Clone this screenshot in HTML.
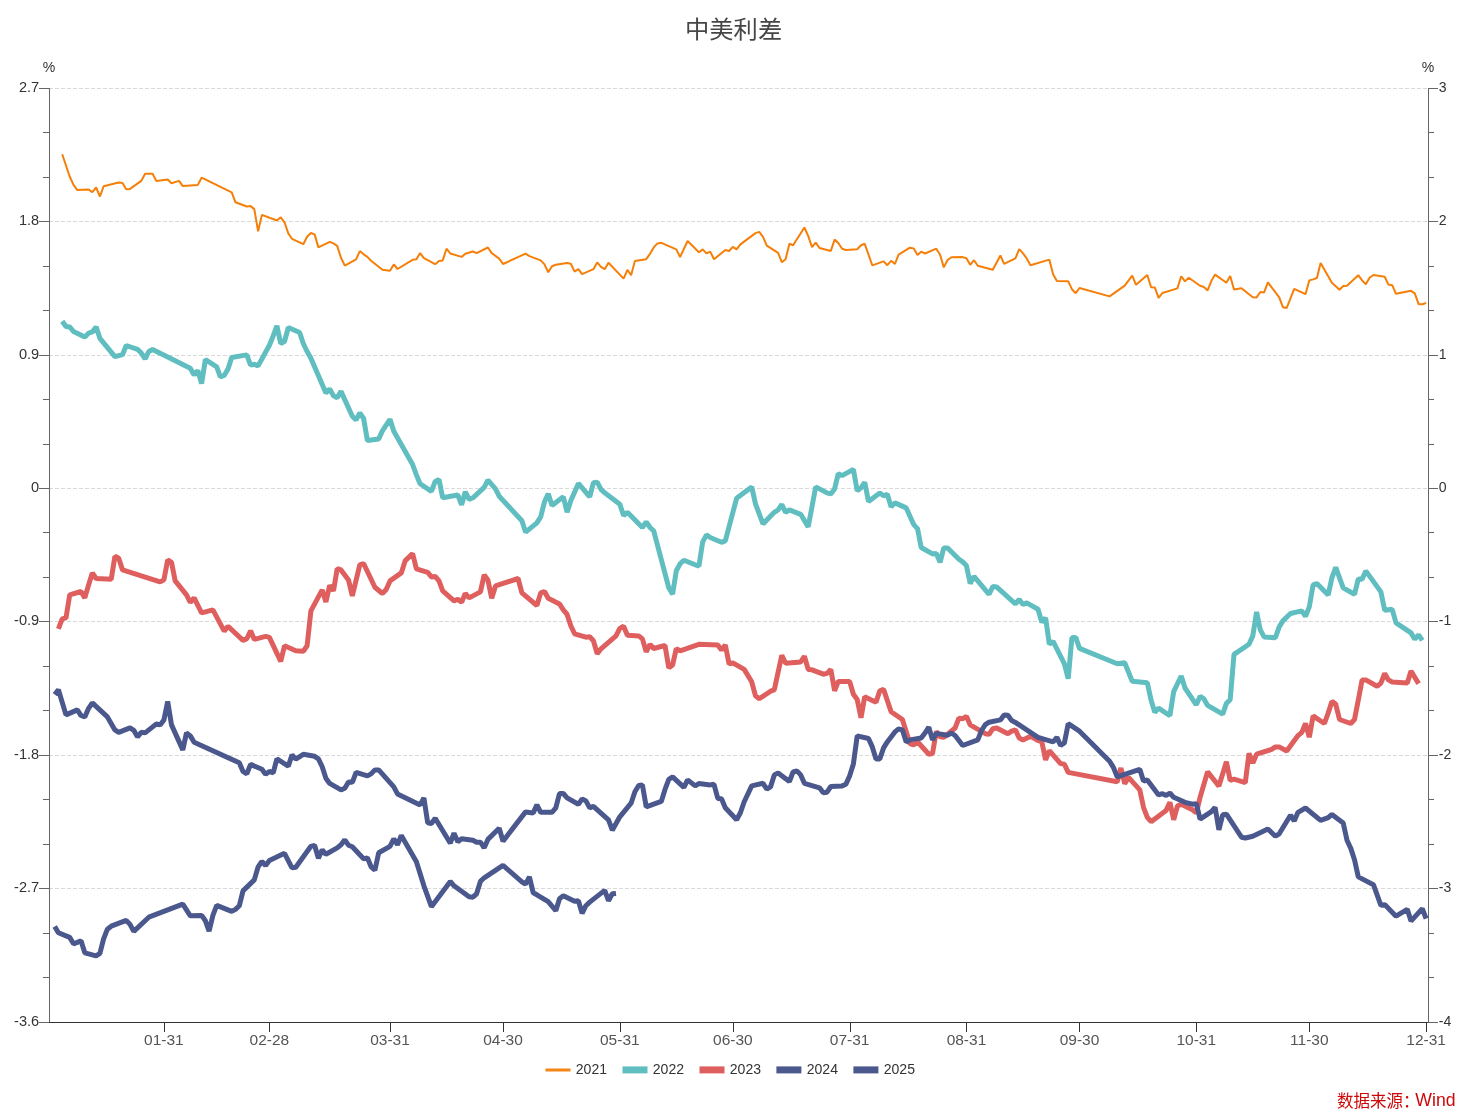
<!DOCTYPE html><html><head><meta charset="utf-8"><title>chart</title><style>html,body{margin:0;padding:0;background:#fff}body{width:1467px;height:1117px;overflow:hidden}svg{display:block;will-change:transform}text{font-family:"Liberation Sans",sans-serif;font-size:15.2px}</style></head><body>
<svg width="1467" height="1117" viewBox="0 0 1467 1117">
<rect width="1467" height="1117" fill="#fff"/>
<g stroke="#d9d9d9" stroke-width="1" stroke-dasharray="4 2" shape-rendering="crispEdges">
<line x1="49" y1="88.5" x2="1428" y2="88.5"/>
<line x1="49" y1="221.5" x2="1428" y2="221.5"/>
<line x1="49" y1="355.5" x2="1428" y2="355.5"/>
<line x1="49" y1="488.5" x2="1428" y2="488.5"/>
<line x1="49" y1="621.5" x2="1428" y2="621.5"/>
<line x1="49" y1="755.5" x2="1428" y2="755.5"/>
<line x1="49" y1="888.5" x2="1428" y2="888.5"/>
</g>
<polyline points="62.2,154.2 69.7,176.5 73.5,184.9 77.3,190.1 88.6,189.5 92.3,192.1 96.1,187.5 99.9,196.5 103.6,186.3 118.7,182.5 122.5,183.1 126.2,189.3 130.0,188.9 141.3,180.9 145.1,173.7 152.6,173.7 156.4,181.1 167.7,179.5 171.5,183.3 179.0,180.9 182.8,186.1 197.8,184.9 201.6,177.7 231.7,192.3 235.5,202.3 246.8,206.5 250.6,206.1 254.3,209.1 258.1,231.4 261.9,214.9 276.9,220.5 280.7,217.3 284.5,222.3 288.3,233.4 292.0,238.8 303.3,244.2 307.1,236.8 310.9,233.0 314.6,234.4 318.4,247.4 329.7,241.8 333.5,243.4 337.2,245.9 341.0,257.8 344.8,265.6 356.1,259.4 359.8,251.1 363.6,254.3 367.4,256.9 371.1,260.8 382.4,269.8 390.0,270.8 393.8,264.4 397.5,269.0 412.6,259.8 416.4,259.2 420.1,253.1 423.9,258.2 435.2,264.2 439.0,261.0 442.7,260.4 446.5,248.7 450.3,253.5 461.6,256.9 465.3,253.7 472.9,251.5 476.6,253.1 487.9,247.5 491.7,253.1 499.2,258.6 503.0,264.0 525.6,253.7 529.4,256.1 540.7,260.4 544.5,264.4 548.2,272.2 552.0,266.2 555.8,264.8 567.1,263.0 570.8,263.8 574.6,271.6 578.4,269.2 582.1,274.2 593.4,269.2 597.2,262.4 601.0,266.8 604.7,269.2 608.5,262.8 623.6,278.6 627.4,269.8 631.1,275.2 634.9,261.0 646.2,259.2 650.0,253.8 653.7,247.4 657.5,243.4 661.3,242.8 676.3,249.4 680.1,257.0 687.6,241.0 698.9,252.2 702.7,249.4 706.5,253.4 710.2,251.6 714.0,259.2 725.3,250.0 729.1,251.0 732.8,246.8 736.6,249.4 740.4,244.4 755.5,233.1 759.2,231.9 763.0,236.9 766.8,245.6 778.1,252.8 781.8,262.2 785.6,259.2 789.4,243.8 793.1,245.2 804.4,227.5 808.2,235.9 812.0,247.2 815.7,242.6 819.5,248.0 830.8,251.0 834.6,239.6 838.3,243.0 842.1,248.8 845.9,250.0 857.2,249.2 861.0,245.2 864.7,243.8 872.3,265.4 883.6,261.4 887.3,265.2 891.1,260.8 894.9,264.0 898.6,254.6 909.9,247.7 913.7,248.5 917.5,254.9 921.2,251.7 925.0,253.5 936.3,248.7 940.1,254.7 943.8,267.4 947.6,260.0 951.4,257.2 962.7,257.1 966.4,258.2 970.2,264.8 974.0,260.2 977.8,265.8 992.8,269.8 1000.4,255.5 1004.1,263.8 1015.4,258.4 1019.2,249.1 1023.0,253.3 1026.7,258.4 1030.5,265.2 1049.3,259.6 1053.1,274.2 1056.9,281.0 1068.2,281.2 1071.9,289.2 1075.7,293.2 1079.5,288.0 1109.6,296.4 1124.7,285.6 1132.2,275.6 1136.0,284.8 1147.3,275.0 1151.1,287.2 1154.8,287.4 1158.6,297.8 1162.4,293.0 1177.4,288.4 1181.2,276.3 1185.0,281.4 1188.7,277.8 1200.1,285.8 1203.8,287.0 1207.6,290.4 1211.4,280.8 1215.1,274.6 1226.4,282.8 1230.2,276.0 1234.0,289.4 1241.5,288.2 1252.8,297.2 1256.6,297.4 1260.3,292.0 1264.1,292.4 1267.9,282.4 1279.2,297.4 1282.9,307.2 1286.7,308.0 1294.2,288.8 1305.5,294.2 1309.3,280.4 1313.1,279.4 1316.9,278.0 1320.6,263.1 1331.9,282.8 1335.7,286.2 1339.5,289.8 1343.2,286.0 1347.0,285.8 1358.3,275.2 1362.1,280.4 1365.8,284.2 1369.6,277.8 1373.4,275.0 1384.7,276.8 1388.4,284.6 1392.2,285.2 1396.0,293.8 1411.0,290.8 1414.8,293.4 1418.6,304.2 1422.3,304.2 1426.1,303.0" fill="none" stroke="#F57F08" stroke-width="2" stroke-linejoin="bevel" stroke-linecap="butt"/>
<polyline points="62.2,321.2 66.0,326.5 69.7,326.9 73.5,331.5 84.8,337.1 88.6,333.1 92.3,331.9 96.1,326.9 99.9,338.3 114.9,356.7 122.5,354.7 126.2,345.5 137.5,349.3 141.3,353.1 145.1,358.9 148.8,351.5 152.6,349.5 190.3,368.3 194.1,374.9 197.8,370.5 201.6,383.5 205.4,359.5 216.7,366.9 220.4,376.9 224.2,375.5 228.0,368.9 231.7,357.5 246.8,354.9 250.6,365.1 254.3,364.3 258.1,365.9 269.4,345.3 273.2,335.9 276.9,325.9 280.7,343.5 284.5,341.5 288.3,327.5 299.6,332.5 303.3,343.5 307.1,351.5 310.9,358.3 325.9,393.1 329.7,388.9 333.5,395.9 337.2,397.8 341.0,391.4 352.3,416.3 356.1,419.9 359.8,412.9 363.6,418.5 367.4,440.5 378.7,438.9 382.4,430.9 390.0,419.3 393.8,431.3 412.6,464.5 416.4,474.9 420.1,483.8 431.4,491.4 435.2,481.4 439.0,479.4 442.7,497.8 457.8,495.0 461.6,504.8 465.3,491.8 469.1,499.4 472.9,497.8 484.2,487.4 487.9,480.2 495.5,488.8 499.2,496.2 521.9,520.8 525.6,532.2 536.9,522.8 540.7,516.8 544.5,501.8 548.2,493.8 552.0,505.4 563.3,496.8 567.1,512.2 570.8,500.8 578.4,483.4 589.7,496.8 593.4,482.8 597.2,482.2 601.0,489.4 604.7,492.8 619.8,504.3 623.6,515.5 627.4,512.3 642.4,527.5 646.2,521.9 650.0,527.5 653.7,530.9 668.8,587.8 672.6,594.2 676.3,570.8 680.1,563.8 683.9,560.2 698.9,566.2 702.7,541.9 706.5,534.9 710.2,537.5 721.5,542.3 725.3,540.9 736.6,498.3 751.7,486.9 755.5,503.9 763.0,523.9 774.3,512.3 778.1,509.9 781.8,504.5 785.6,512.3 789.4,509.9 800.7,514.3 808.2,526.9 815.7,486.9 827.0,492.9 830.8,493.9 834.6,488.9 838.3,473.6 842.1,475.6 853.4,469.4 857.2,490.9 861.0,487.9 864.7,482.3 868.5,501.5 879.8,492.9 883.6,495.9 887.3,494.3 891.1,506.9 894.9,502.9 906.2,507.9 913.7,524.6 917.5,528.6 921.2,547.5 932.5,553.9 936.3,553.5 940.1,562.3 943.8,547.9 947.6,547.9 958.9,559.3 962.7,561.9 966.4,565.5 970.2,583.5 974.0,576.3 989.1,594.3 992.8,586.5 996.6,586.9 1015.4,603.9 1019.2,599.5 1023.0,604.5 1026.7,602.9 1038.0,609.2 1041.8,622.2 1045.6,617.8 1049.3,644.2 1053.1,641.4 1064.4,663.8 1068.2,678.7 1071.9,637.8 1075.7,637.4 1079.5,648.4 1117.2,663.8 1124.7,662.8 1132.2,681.3 1147.3,682.7 1151.1,700.3 1154.8,712.3 1158.6,708.1 1169.9,715.7 1173.7,691.7 1181.2,676.0 1185.0,688.0 1196.3,704.8 1200.1,696.2 1203.8,698.8 1207.6,705.4 1222.7,714.1 1226.4,703.4 1230.2,699.8 1234.0,654.4 1249.0,644.2 1252.8,635.9 1256.6,611.9 1260.3,629.9 1264.1,636.9 1275.4,637.8 1279.2,626.9 1282.9,620.9 1290.5,613.5 1301.8,610.9 1305.5,616.3 1309.3,606.9 1313.1,584.9 1316.9,583.5 1328.2,594.9 1331.9,577.9 1335.7,567.3 1343.2,587.9 1354.5,594.3 1358.3,578.9 1362.1,579.3 1365.8,570.9 1380.9,591.9 1384.7,610.3 1392.2,609.3 1396.0,622.9 1411.0,632.9 1414.8,639.2 1418.6,634.9 1422.3,640.4" fill="none" stroke="#60BEC0" stroke-width="5" stroke-linejoin="bevel" stroke-linecap="butt"/>
<polyline points="58.4,628.8 62.2,618.8 66.0,617.8 69.7,594.9 81.0,591.5 84.8,597.9 88.6,584.9 92.3,572.9 96.1,578.5 111.2,579.3 114.9,556.3 118.7,558.3 122.5,569.9 160.1,581.9 163.9,579.9 167.7,559.9 171.5,562.3 175.2,580.9 186.5,594.9 190.3,602.3 194.1,597.9 201.6,612.9 212.9,609.9 224.2,631.2 228.0,626.2 243.0,640.4 246.8,638.8 250.6,630.8 254.3,639.4 265.6,636.4 269.4,637.4 280.7,661.4 284.5,645.8 295.8,650.8 303.3,651.2 307.1,645.8 310.9,610.9 322.2,589.9 325.9,601.9 329.7,585.3 333.5,590.9 337.2,568.6 341.0,569.9 348.5,579.9 352.3,595.9 359.8,564.9 363.6,563.5 374.9,587.3 382.4,593.5 386.2,589.5 390.0,580.9 401.3,572.9 405.1,560.9 412.6,553.5 416.4,568.9 427.7,572.3 431.4,576.9 435.2,576.5 439.0,580.9 442.7,590.9 454.0,600.9 457.8,599.3 461.6,602.3 465.3,593.5 469.1,597.9 480.4,591.9 484.2,574.9 487.9,579.9 491.7,598.3 495.5,585.9 518.1,578.5 521.9,592.9 536.9,605.5 540.7,592.9 544.5,591.5 548.2,598.3 559.5,603.9 563.3,609.8 567.1,614.4 570.8,625.8 574.6,633.8 585.9,637.2 589.7,636.8 593.4,640.8 597.2,653.8 601.0,648.8 616.0,635.8 619.8,628.4 623.6,626.3 627.4,635.3 638.7,635.9 642.4,638.9 646.2,651.9 650.0,644.3 653.7,648.5 665.0,645.5 668.8,667.8 672.6,664.9 676.3,648.5 680.1,650.9 698.9,644.3 717.8,644.9 721.5,649.9 725.3,644.9 729.1,663.9 732.8,662.9 744.2,669.4 751.7,681.8 755.5,695.8 759.2,698.8 770.5,691.2 774.3,689.8 781.8,655.3 785.6,663.3 800.7,661.9 804.4,656.3 808.2,669.4 812.0,669.8 823.3,674.2 827.0,673.4 830.8,669.4 834.6,690.8 838.3,681.4 849.6,681.4 853.4,694.2 857.2,699.4 861.0,717.8 864.7,696.8 876.0,702.2 879.8,690.8 883.6,689.4 891.1,711.8 902.4,719.5 909.9,743.6 913.7,744.9 917.5,741.8 928.8,754.2 932.5,753.6 936.3,731.5 940.1,736.8 943.8,737.4 955.1,728.0 958.9,718.1 962.7,718.7 966.4,716.2 970.2,724.9 985.3,733.7 989.1,734.3 992.8,728.7 996.6,728.0 1007.9,733.7 1011.7,731.2 1015.4,729.9 1019.2,738.0 1023.0,739.9 1030.5,736.2 1038.0,740.5 1041.8,741.8 1045.6,759.9 1049.3,750.6 1060.6,763.6 1064.4,764.2 1068.2,772.4 1117.2,781.8 1120.9,768.0 1124.7,783.6 1128.5,777.4 1139.8,789.9 1143.5,807.3 1147.3,817.3 1151.1,821.7 1166.1,810.4 1169.9,802.3 1173.7,819.8 1177.4,806.1 1181.2,804.2 1192.5,809.8 1196.3,812.9 1200.1,797.3 1207.6,771.8 1218.9,786.1 1226.4,761.8 1230.2,780.5 1234.0,779.2 1245.3,782.6 1249.0,753.4 1252.8,763.1 1256.6,754.2 1271.6,749.4 1275.4,746.9 1279.2,746.9 1286.7,751.0 1298.0,735.6 1301.8,732.4 1305.5,723.5 1309.3,737.2 1313.1,715.9 1324.4,723.5 1328.2,713.0 1331.9,701.4 1335.7,704.1 1339.5,719.5 1350.8,723.5 1354.5,719.5 1358.3,700.1 1362.1,679.9 1365.8,679.9 1377.1,686.3 1380.9,683.1 1384.7,673.4 1388.4,679.9 1392.2,682.0 1407.3,683.1 1411.0,671.0 1418.6,683.6" fill="none" stroke="#DF5E5E" stroke-width="5" stroke-linejoin="bevel" stroke-linecap="butt"/>
<polyline points="54.7,694.5 58.4,689.7 66.0,714.9 77.3,709.9 81.0,715.5 84.8,716.9 88.6,708.3 92.3,702.9 107.4,716.9 114.9,729.9 118.7,732.3 130.0,727.9 133.8,730.3 137.5,736.9 141.3,732.3 145.1,732.9 156.4,723.9 160.1,724.9 163.9,719.9 167.7,701.5 171.5,724.9 182.8,749.9 186.5,732.9 190.3,735.9 194.1,742.3 239.3,762.8 243.0,771.4 246.8,773.8 250.6,764.4 261.9,769.2 265.6,774.4 269.4,771.4 273.2,772.8 276.9,758.8 288.3,766.2 292.0,754.9 295.8,759.2 303.3,754.3 314.6,756.3 318.4,758.8 322.2,766.8 325.9,778.2 329.7,783.4 341.0,789.9 344.8,788.3 348.5,781.9 352.3,782.3 356.1,772.3 367.4,775.9 371.1,773.9 374.9,769.9 378.7,769.9 393.8,786.9 397.5,793.9 420.1,804.9 423.9,797.9 427.7,822.9 431.4,823.5 435.2,818.3 450.3,843.2 454.0,833.2 457.8,841.8 461.6,838.8 472.9,840.2 476.6,842.2 480.4,842.2 484.2,847.8 487.9,839.4 499.2,828.2 503.0,841.2 525.6,811.9 533.2,812.9 536.9,804.9 540.7,812.3 552.0,812.3 555.8,807.9 559.5,793.5 563.3,793.5 567.1,797.9 578.4,804.3 582.1,798.9 585.9,800.9 589.7,807.9 593.4,806.3 608.5,819.9 612.3,830.2 619.8,816.8 631.1,803.2 634.9,791.8 638.7,785.5 642.4,784.9 646.2,806.8 661.3,801.4 665.0,789.4 668.8,779.3 672.6,776.9 683.9,787.4 687.6,779.9 695.2,785.9 698.9,783.5 710.2,784.9 714.0,784.3 717.8,798.4 721.5,798.8 725.3,807.8 736.6,819.8 740.4,812.8 744.2,801.8 751.7,785.9 763.0,783.3 766.8,789.2 770.5,786.9 774.3,774.9 778.1,772.9 789.4,781.5 793.1,771.9 796.9,770.9 800.7,774.9 804.4,783.3 819.5,787.8 823.3,792.8 827.0,792.2 830.8,786.5 842.1,785.9 845.9,784.3 849.6,775.9 853.4,763.9 857.2,735.9 868.5,738.5 872.3,746.9 876.0,758.9 879.8,758.9 883.6,747.9 887.3,741.9 894.9,731.9 898.6,728.9 902.4,729.9 906.2,742.0 909.9,739.9 921.2,738.0 925.0,733.0 928.8,727.1 932.5,739.9 936.3,733.4 947.6,735.2 951.4,733.0 955.1,735.5 962.7,745.5 977.8,739.9 981.5,730.5 985.3,724.7 989.1,722.2 1000.4,719.9 1004.1,715.0 1007.9,715.3 1011.7,720.6 1015.4,722.4 1038.0,737.4 1053.1,741.8 1056.9,737.4 1060.6,745.5 1064.4,743.0 1068.2,723.7 1079.5,731.2 1109.6,761.2 1113.4,767.4 1117.2,776.8 1139.8,769.3 1143.5,781.1 1147.3,779.9 1158.6,794.9 1162.4,793.6 1166.1,795.5 1169.9,793.0 1173.7,797.3 1185.0,802.3 1192.5,804.2 1196.3,803.6 1200.1,819.2 1211.4,811.7 1215.1,807.3 1218.9,829.8 1222.7,814.8 1226.4,814.2 1241.5,837.2 1245.3,838.0 1252.8,836.2 1267.9,829.0 1275.4,836.2 1279.2,833.8 1290.5,815.2 1294.2,820.9 1298.0,812.3 1305.5,808.0 1320.6,820.4 1328.2,817.7 1331.9,814.4 1343.2,823.0 1347.0,840.3 1350.8,848.4 1354.5,859.7 1358.3,876.9 1373.4,884.7 1380.9,905.4 1384.7,904.6 1396.0,916.2 1407.3,909.3 1411.0,921.1 1422.3,908.6 1426.1,918.6" fill="none" stroke="#4B588D" stroke-width="5" stroke-linejoin="bevel" stroke-linecap="butt"/>
<polyline points="54.7,926.4 58.4,932.8 69.7,937.4 73.5,943.8 77.3,942.4 81.0,940.8 84.8,952.8 96.1,955.8 99.9,953.4 103.6,938.8 107.4,929.2 111.2,926.2 126.2,920.4 130.0,924.4 133.8,931.4 148.8,917.2 182.8,904.2 190.3,915.8 201.6,915.4 205.4,920.8 209.1,931.2 212.9,915.4 216.7,905.4 231.7,911.4 235.5,909.4 239.3,905.8 243.0,890.9 254.3,879.9 258.1,866.9 261.9,861.5 265.6,865.5 269.4,860.5 284.5,853.3 292.0,867.9 295.8,867.3 310.9,846.3 314.6,845.3 318.4,858.3 322.2,849.9 325.9,854.3 337.2,847.9 341.0,844.8 344.8,839.8 348.5,845.2 352.3,846.8 363.6,858.8 367.4,857.8 371.1,866.8 374.9,870.2 378.7,852.8 390.0,846.4 393.8,838.8 397.5,844.8 401.3,835.4 416.4,861.8 423.9,885.8 431.4,906.7 450.3,881.4 454.0,885.8 469.1,896.8 472.9,897.2 476.6,893.8 480.4,881.4 484.2,877.8 503.0,865.4 521.9,881.8 525.6,884.2 529.4,876.8 533.2,892.8 536.9,894.8 548.2,901.7 555.8,910.7 559.5,898.7 563.3,895.8 574.6,901.3 578.4,900.7 582.1,913.3 585.9,905.7 589.7,902.1 604.7,890.4 608.5,900.7 612.3,893.8 616.0,893.4" fill="none" stroke="#4B588D" stroke-width="5" stroke-linejoin="bevel" stroke-linecap="butt"/>
<g stroke="#666" stroke-width="1" shape-rendering="crispEdges">
<line x1="49.5" y1="88" x2="49.5" y2="1023"/>
<line x1="1428.5" y1="88" x2="1428.5" y2="1023"/>
<line x1="39" y1="88.5" x2="49" y2="88.5"/>
<line x1="1429" y1="88.5" x2="1438" y2="88.5"/>
<line x1="43" y1="132.5" x2="49" y2="132.5"/>
<line x1="1429" y1="132.5" x2="1434" y2="132.5"/>
<line x1="43" y1="177.5" x2="49" y2="177.5"/>
<line x1="1429" y1="177.5" x2="1434" y2="177.5"/>
<line x1="39" y1="221.5" x2="49" y2="221.5"/>
<line x1="1429" y1="221.5" x2="1438" y2="221.5"/>
<line x1="43" y1="266.5" x2="49" y2="266.5"/>
<line x1="1429" y1="266.5" x2="1434" y2="266.5"/>
<line x1="43" y1="310.5" x2="49" y2="310.5"/>
<line x1="1429" y1="310.5" x2="1434" y2="310.5"/>
<line x1="39" y1="355.5" x2="49" y2="355.5"/>
<line x1="1429" y1="355.5" x2="1438" y2="355.5"/>
<line x1="43" y1="399.5" x2="49" y2="399.5"/>
<line x1="1429" y1="399.5" x2="1434" y2="399.5"/>
<line x1="43" y1="444.5" x2="49" y2="444.5"/>
<line x1="1429" y1="444.5" x2="1434" y2="444.5"/>
<line x1="39" y1="488.5" x2="49" y2="488.5"/>
<line x1="1429" y1="488.5" x2="1438" y2="488.5"/>
<line x1="43" y1="532.5" x2="49" y2="532.5"/>
<line x1="1429" y1="532.5" x2="1434" y2="532.5"/>
<line x1="43" y1="577.5" x2="49" y2="577.5"/>
<line x1="1429" y1="577.5" x2="1434" y2="577.5"/>
<line x1="39" y1="621.5" x2="49" y2="621.5"/>
<line x1="1429" y1="621.5" x2="1438" y2="621.5"/>
<line x1="43" y1="666.5" x2="49" y2="666.5"/>
<line x1="1429" y1="666.5" x2="1434" y2="666.5"/>
<line x1="43" y1="710.5" x2="49" y2="710.5"/>
<line x1="1429" y1="710.5" x2="1434" y2="710.5"/>
<line x1="39" y1="755.5" x2="49" y2="755.5"/>
<line x1="1429" y1="755.5" x2="1438" y2="755.5"/>
<line x1="43" y1="799.5" x2="49" y2="799.5"/>
<line x1="1429" y1="799.5" x2="1434" y2="799.5"/>
<line x1="43" y1="844.5" x2="49" y2="844.5"/>
<line x1="1429" y1="844.5" x2="1434" y2="844.5"/>
<line x1="39" y1="888.5" x2="49" y2="888.5"/>
<line x1="1429" y1="888.5" x2="1438" y2="888.5"/>
<line x1="43" y1="933.5" x2="49" y2="933.5"/>
<line x1="1429" y1="933.5" x2="1434" y2="933.5"/>
<line x1="43" y1="977.5" x2="49" y2="977.5"/>
<line x1="1429" y1="977.5" x2="1434" y2="977.5"/>
<line x1="39" y1="1022.5" x2="49" y2="1022.5"/>
<line x1="1429" y1="1022.5" x2="1438" y2="1022.5"/>
</g>
<g stroke="#333" stroke-width="1" shape-rendering="crispEdges">
<line x1="49" y1="1022.5" x2="1428" y2="1022.5"/>
<line x1="164.5" y1="1023" x2="164.5" y2="1032"/>
<line x1="269.5" y1="1023" x2="269.5" y2="1032"/>
<line x1="390.5" y1="1023" x2="390.5" y2="1032"/>
<line x1="503.5" y1="1023" x2="503.5" y2="1032"/>
<line x1="620.5" y1="1023" x2="620.5" y2="1032"/>
<line x1="733.5" y1="1023" x2="733.5" y2="1032"/>
<line x1="850.5" y1="1023" x2="850.5" y2="1032"/>
<line x1="966.5" y1="1023" x2="966.5" y2="1032"/>
<line x1="1079.5" y1="1023" x2="1079.5" y2="1032"/>
<line x1="1196.5" y1="1023" x2="1196.5" y2="1032"/>
<line x1="1309.5" y1="1023" x2="1309.5" y2="1032"/>
<line x1="1426.5" y1="1023" x2="1426.5" y2="1032"/>
</g>
<g fill="#555" text-anchor="middle">
<text transform="translate(163.92 1044.80) scale(1.020 1)" text-anchor="middle">01-31</text>
<text transform="translate(269.41 1044.80) scale(1.020 1)" text-anchor="middle">02-28</text>
<text transform="translate(389.98 1044.80) scale(1.020 1)" text-anchor="middle">03-31</text>
<text transform="translate(503.02 1044.80) scale(1.020 1)" text-anchor="middle">04-30</text>
<text transform="translate(619.82 1044.80) scale(1.020 1)" text-anchor="middle">05-31</text>
<text transform="translate(732.85 1044.80) scale(1.020 1)" text-anchor="middle">06-30</text>
<text transform="translate(849.65 1044.80) scale(1.020 1)" text-anchor="middle">07-31</text>
<text transform="translate(966.45 1044.80) scale(1.020 1)" text-anchor="middle">08-31</text>
<text transform="translate(1079.48 1044.80) scale(1.020 1)" text-anchor="middle">09-30</text>
<text transform="translate(1196.28 1044.80) scale(1.020 1)" text-anchor="middle">10-31</text>
<text transform="translate(1309.32 1044.80) scale(1.020 1)" text-anchor="middle">11-30</text>
<text transform="translate(1426.12 1044.80) scale(1.020 1)" text-anchor="middle">12-31</text>
</g>
<g fill="#333" text-anchor="end">
<text transform="translate(39.20 91.80) scale(0.960 1)" text-anchor="end">2.7</text>
<text transform="translate(39.20 224.80) scale(0.960 1)" text-anchor="end">1.8</text>
<text transform="translate(39.20 358.80) scale(0.960 1)" text-anchor="end">0.9</text>
<text transform="translate(39.20 491.80) scale(0.960 1)" text-anchor="end">0</text>
<text transform="translate(39.20 624.80) scale(0.960 1)" text-anchor="end">-0.9</text>
<text transform="translate(39.20 758.80) scale(0.960 1)" text-anchor="end">-1.8</text>
<text transform="translate(39.20 891.80) scale(0.960 1)" text-anchor="end">-2.7</text>
<text transform="translate(39.20 1025.80) scale(0.960 1)" text-anchor="end">-3.6</text>
</g>
<g fill="#333" text-anchor="start">
<text transform="translate(1438.80 91.80) scale(0.926 1)" text-anchor="start">3</text>
<text transform="translate(1438.80 224.80) scale(0.926 1)" text-anchor="start">2</text>
<text transform="translate(1438.80 358.80) scale(0.926 1)" text-anchor="start">1</text>
<text transform="translate(1438.80 491.80) scale(0.926 1)" text-anchor="start">0</text>
<text transform="translate(1438.80 624.80) scale(0.926 1)" text-anchor="start">-1</text>
<text transform="translate(1438.80 758.80) scale(0.926 1)" text-anchor="start">-2</text>
<text transform="translate(1438.80 891.80) scale(0.926 1)" text-anchor="start">-3</text>
<text transform="translate(1438.80 1025.80) scale(0.926 1)" text-anchor="start">-4</text>
</g>
<text transform="translate(49.00 72.00) scale(0.926 1)" text-anchor="middle" fill="#333">%</text>
<text transform="translate(1428.00 72.00) scale(0.926 1)" text-anchor="middle" fill="#333">%</text>
<text x="685" y="38.1" fill="#464646" text-anchor="start" style="font-family:'Liberation Sans','Noto Sans CJK SC',sans-serif;font-size:24.3px">中美利差</text>
<rect x="545.5" y="1068.5" width="25" height="3" fill="#F58616"/>
<rect x="622.5" y="1066.4" width="25" height="7" fill="#60BEC0"/>
<rect x="699.5" y="1066.4" width="25" height="7" fill="#DF5E5E"/>
<rect x="776.4" y="1066.4" width="25" height="7" fill="#4B588D"/>
<rect x="853.4" y="1066.4" width="25" height="7" fill="#4B588D"/>
<g fill="#333" text-anchor="start">
<text transform="translate(575.80 1074.00) scale(0.926 1)" text-anchor="start">2021</text>
<text transform="translate(652.80 1074.00) scale(0.926 1)" text-anchor="start">2022</text>
<text transform="translate(729.80 1074.00) scale(0.926 1)" text-anchor="start">2023</text>
<text transform="translate(806.70 1074.00) scale(0.926 1)" text-anchor="start">2024</text>
<text transform="translate(883.70 1074.00) scale(0.926 1)" text-anchor="start">2025</text>
</g>
<text x="1337" y="1106.6" fill="#CC0808" text-anchor="start" style="font-family:'Liberation Sans','Noto Sans CJK SC',sans-serif;font-size:16.5px">数据来源：</text>
<text transform="translate(1415.30 1106.30) scale(0.955 1)" text-anchor="start" fill="#CC0808" style="font-size:18.5px">Wind</text>
</svg></body></html>
